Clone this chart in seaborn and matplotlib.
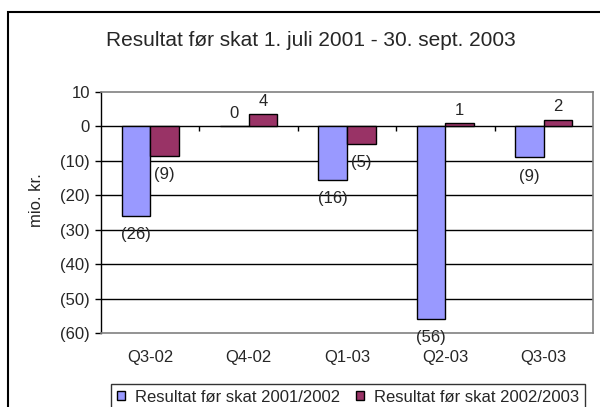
import pandas as pd
import seaborn as sns
import matplotlib.pyplot as plt
from matplotlib.patches import Rectangle

# Data
kvartaler = ['Q3-02', 'Q4-02', 'Q1-03', 'Q2-03', 'Q3-03']
serie_navne = ['Resultat før skat 2001/2002', 'Resultat før skat 2002/2003']
res_2001_2002 = [-26, 0, -15.5, -56, -9]
res_2002_2003 = [-8.7, 3.5, -5, 0.9, 2]
y_ticks = [10, 0, -10, -20, -30, -40, -50, -60]
y_tick_labels = ['10', '0', '(10)', '(20)', '(30)', '(40)', '(50)', '(60)']

df = pd.DataFrame({
    'kvartal': kvartaler * 2,
    'serie': [serie_navne[0]] * 5 + [serie_navne[1]] * 5,
    'resultat': res_2001_2002 + res_2002_2003,
})

sns.set_style('white')
plt.rcParams['font.family'] = ['Liberation Sans', 'DejaVu Sans']

fig = plt.figure(figsize=(6, 4.07), dpi=100)
ax = fig.add_axes([101 / 600, 1 - 333 / 407, 492 / 600, 241 / 407])

sns.barplot(data=df, x='kvartal', y='resultat', hue='serie', order=kvartaler,
            hue_order=serie_navne, palette=['#9999FF', '#993366'],
            width=0.58, edgecolor='black', linewidth=1, saturation=1, ax=ax)

ax.set_ylim(-60, 10)
ax.set_xlim(-0.5, 4.5)
ax.set_yticks(y_ticks)
ax.set_yticklabels(y_tick_labels, fontsize=12)
ax.tick_params(axis='y', length=4, width=1, color='black', pad=4, left=True)
ax.tick_params(axis='x', length=0, pad=12, labelsize=12)
ax.set_xlabel('')
ax.set_ylabel('mio. kr.', fontsize=12)
ax.yaxis.set_label_coords(-0.115, 0.55)

# Gitterlinjer og akser
for y in y_ticks[1:-1]:
    ax.axhline(y, color='black', lw=1, zorder=0.5)
ax.vlines([0.5, 1.5, 2.5, 3.5], -1.3, 0, color='black', lw=1)
for side in ['top', 'right', 'bottom']:
    ax.spines[side].set_color('#808080')
    ax.spines[side].set_linewidth(1.2)
ax.spines['left'].set_color('black')
ax.spines['left'].set_linewidth(1)

# Dataetiketter
for cont in ax.containers:
    for bar in cont:
        v = bar.get_height()
        tekst = f'({abs(v):.0f})' if v < 0 else f'{v:.0f}'
        dy = -8 if v < 0 else 4
        ax.annotate(tekst, (bar.get_x() + bar.get_width() / 2, v),
                    xytext=(0, dy), textcoords='offset points',
                    ha='center', va='top' if v < 0 else 'bottom', fontsize=12)

fig.text(311 / 600, 1 - 40 / 407, 'Resultat før skat 1. juli 2001 - 30. sept. 2003',
         fontsize=15, ha='center', va='center')

ax.get_legend().remove()
h, l = ax.get_legend_handles_labels()
leg = fig.legend(h, l, loc='upper center', bbox_to_anchor=(0.58, 1 - 384 / 407),
                 ncol=2, fontsize=12, frameon=True, fancybox=False,
                 edgecolor='black', handlelength=0.45, handleheight=0.45,
                 handletextpad=0.6, columnspacing=1.0, borderpad=0.35,
                 borderaxespad=0)
leg.get_frame().set_linewidth(1)

# Ydre ramme
fig.patches.append(Rectangle((8 / 600, -0.1), 1.2, 1.1 - 12 / 407, fill=False,
                             edgecolor='black', lw=1.5,
                             transform=fig.transFigure))

fig.savefig('out.png', dpi=100)
